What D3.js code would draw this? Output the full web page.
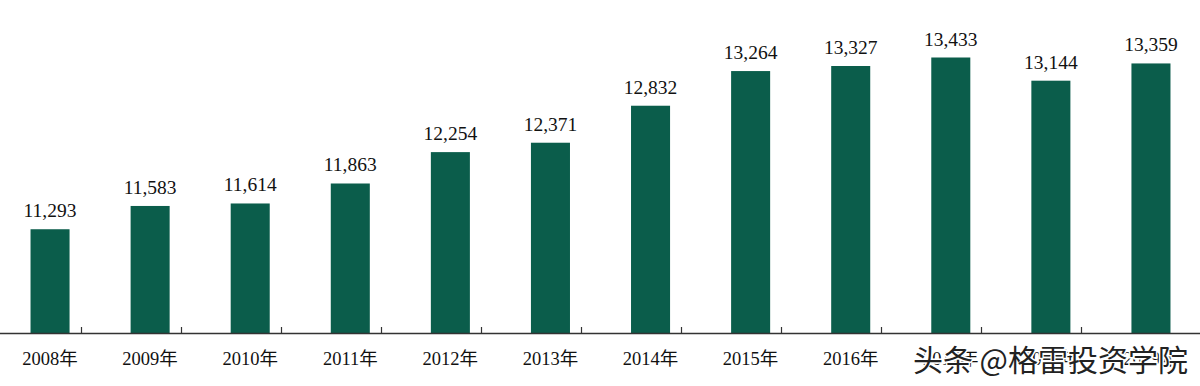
<!DOCTYPE html>
<html>
<head>
<meta charset="utf-8">
<script src="https://cdn.jsdelivr.net/npm/d3@7"></script>
<style>
  html, body { margin: 0; padding: 0; background: #fff; }
  svg { display: block; }
</style>
</head>
<body>
<svg id="chart" width="1200" height="386"></svg>
<script>
const categories = ["2008年","2009年","2010年","2011年","2012年","2013年","2014年","2015年","2016年","2017年","2018年","2019年"];
const values = [11293, 11583, 11614, 11863, 12254, 12371, 12832, 13264, 13327, 13433, 13144, 13359];
const watermark = "头条 @格雷投资学院";

const svg = d3.select("#chart");
const W = 1200, H = 386;
const baseY = 333;

const x = d3.scaleBand().domain(categories).range([0, 1201]).paddingInner(0.61).paddingOuter(0.305);
const y = d3.scaleLinear().domain([10000, 14000]).range([baseY, 12]);

const fmt = d3.format(",");

// bars
svg.append("g").selectAll("rect").data(values).join("rect")
  .attr("x", (d, i) => x(categories[i]))
  .attr("width", x.bandwidth())
  .attr("y", d => y(d))
  .attr("height", d => baseY - y(d))
  .attr("fill", "#0b5d4b");

// value labels
svg.append("g").selectAll("text").data(values).join("text")
  .attr("x", (d, i) => x(categories[i]) + x.bandwidth() / 2)
  .attr("y", d => y(d) - 12)
  .attr("text-anchor", "middle")
  .attr("font-family", "'Liberation Serif', 'Times New Roman', serif")
  .attr("font-size", 19.5)
  .attr("fill", "#111")
  .text(d => fmt(d));

// axis line
const step = x.step();
svg.append("line")
  .attr("x1", 0).attr("x2", W)
  .attr("y1", baseY + 0.5).attr("y2", baseY + 0.5)
  .attr("stroke", "#333").attr("stroke-width", 1.3);

// tick marks between categories (pointing upward)
svg.append("g").selectAll("line").data(categories.slice(1)).join("line")
  .attr("x1", d => Math.round(x(d) - x.bandwidth() * 0.5 - (step - x.bandwidth()) / 2) + 0.5)
  .attr("x2", d => Math.round(x(d) - x.bandwidth() * 0.5 - (step - x.bandwidth()) / 2) + 0.5)
  .attr("y1", baseY - 6).attr("y2", baseY)
  .attr("stroke", "#333").attr("stroke-width", 1.2);

// category labels
svg.append("g").selectAll("text").data(categories).join("text")
  .attr("x", d => x(d) + x.bandwidth() / 2)
  .attr("y", 365)
  .attr("text-anchor", "middle")
  .attr("font-family", "'Liberation Serif', 'Noto Sans CJK SC', serif")
  .attr("font-size", 18.5)
  .attr("fill", "#111")
  .text(d => d);

// watermark overlay
svg.append("text")
  .attr("x", 1188)
  .attr("y", 371)
  .attr("text-anchor", "end")
  .attr("font-family", "'Noto Sans CJK SC', sans-serif")
  .attr("font-size", 30)
  .attr("fill", "#222")
  .attr("stroke", "#fff")
  .attr("stroke-width", 3)
  .attr("paint-order", "stroke")
  .text(watermark);
</script>
</body>
</html>
